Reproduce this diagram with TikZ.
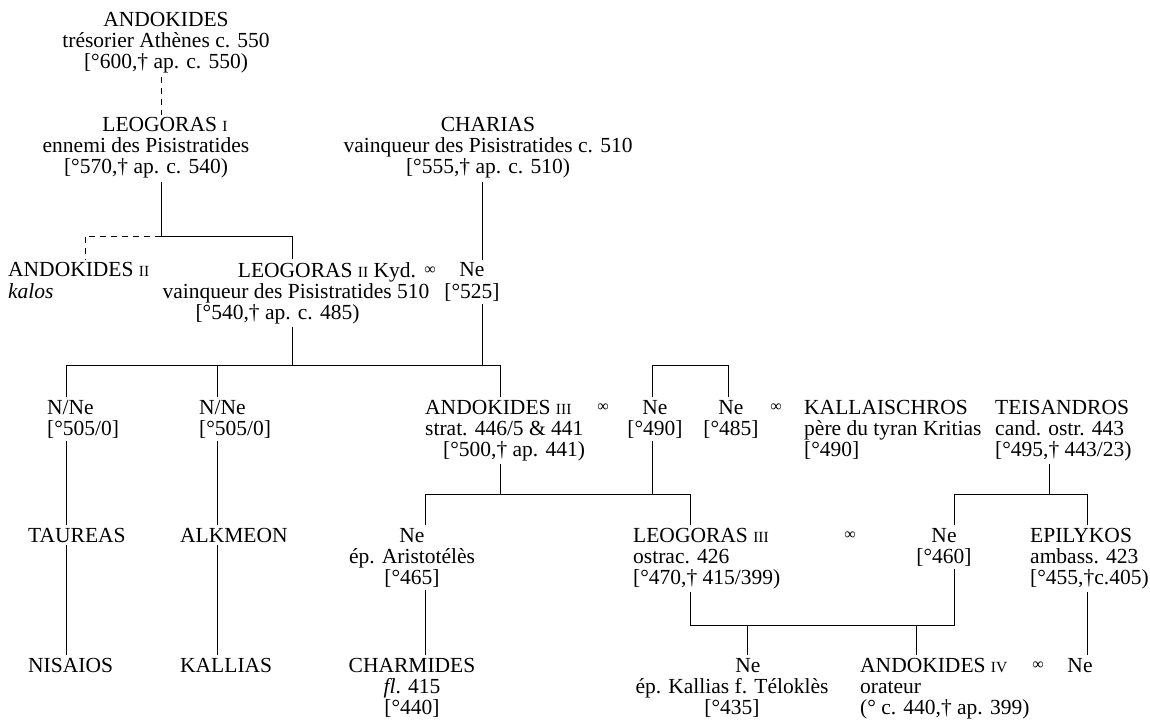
\documentclass[tikz,border=0pt]{standalone}
\usepackage{fontspec}
\setmainfont{Liberation Serif}
\newcommand{\numr}[1]{{\fontsize{15.5}{15.5}\selectfont #1}}

\tikzstyle{pers} = [inner xsep=0pt, inner ysep=3pt, align=center, anchor=base]
\tikzstyle{persl} = [pers, align=left, anchor=base west]
\tikzstyle{wed} = [inner sep=0pt, anchor=base, yshift=3pt, font=\fontsize{16}{16}\selectfont]
\tikzstyle{link} = [line width=0.9pt]
\tikzstyle{unsure} = [link, dash pattern=on 6pt off 5pt]

\begin{document}
\begin{tikzpicture}[x=1pt, y=-1pt, font=\fontsize{21.5}{21}\selectfont]
\useasboundingbox (0,0) rectangle (1150,727);

% nodes sit on the baseline of their last line
\node[pers] (andokidesI) at (166,69) {ANDOKIDES\\trésorier Athènes c. 550\\{[}°600,† ap. c. 550)};
\node[pers] (leogorasI) at (146,174) {\hspace*{38pt}LEOGORAS \numr{I}\\ennemi des Pisistratides\\{[}°570,† ap. c. 540)};
\node[pers] (charias) at (488,174) {CHARIAS\\vainqueur des Pisistratides c. 510\\{[}°555,† ap. c. 510)};
\node[persl] (andokidesII) at (8,298) {ANDOKIDES \numr{II}\\\textit{kalos}};
\node[pers] (leogorasII) at (296,319) {\hspace*{62pt}LEOGORAS \numr{II} Kyd.\\vainqueur des Pisistratides 510\\{[}°540,† ap. c. 485)\hspace*{37pt}};
\node[wed] (wedC) at (430,277) {∞};
\node[pers] (neCharias) at (472,298) {Ne\\{[}°525]};

% children of Leogoras II and Ne
\node[persl] (nneA) at (47,435) {N/Ne\\{[}°505/0]};
\node[persl] (nneB) at (199,435) {N/Ne\\{[}°505/0]};
\node[persl] (andokidesIII) at (425,456) {ANDOKIDES \numr{III}\\strat. 446/5 \& 441\\\hspace*{18pt}[°500,† ap. 441)};
\node[wed] (wedD) at (603,414) {∞};
\node[pers] (ne490) at (655,435) {Ne\\{[}°490]};
\node[pers] (ne485) at (731,435) {Ne\\{[}°485]};
\node[wed] (wedE) at (776,414) {∞};
\node[persl] (kallaischros) at (804,456) {KALLAISCHROS\\père du tyran Kritias\\{[}°490]};
\node[persl] (teisandros) at (995,456) {TEISANDROS\\cand. ostr. 443\\{[}°495,† 443/23)};

\node[persl] (taureas) at (28,542) {TAUREAS};
\node[persl] (alkmeon) at (180,542) {ALKMEON};
\node[pers] (neAristoteles) at (412,584) {Ne\\ép. Aristotélès\\{[}°465]};
\node[persl] (leogorasIII) at (633,584) {LEOGORAS \numr{III}\\ostrac. 426\\{[}°470,† 415/399)};
\node[wed] (wedF) at (850,542) {∞};
\node[pers] (ne460) at (944,563) {Ne\\{[}°460]};
\node[persl] (epilykos) at (1030,584) {EPILYKOS\\ambass. 423\\{[}°455,†c.405)};

\node[persl] (nisaios) at (28,672) {NISAIOS};
\node[persl] (kallias) at (180,672) {KALLIAS};
\node[pers] (charmides) at (412,714) {CHARMIDES\\\textit{fl}. 415\\{[}°440]};
\node[pers] (neKallias) at (732,714) {\hspace*{32pt}Ne\\ép. Kallias f. Téloklès\\{[}°435]};
\node[persl] (andokidesIV) at (860,714) {ANDOKIDES \numr{IV}\\orateur\\(° c. 440,† ap. 399)};
\node[wed] (wedG) at (1038,672) {∞};
\node[pers] (neEpilykos) at (1080,672) {Ne};

% junctions
\coordinate (b1) at (161,236);
\coordinate (b1l) at (85,236);
\coordinate (b1r) at (292,236);
\coordinate (b2l) at (66,365);
\coordinate (b2a) at (217,365);
\coordinate (b2f) at (292,365);
\coordinate (b2m) at (482,365);
\coordinate (b2r) at (500,365);
\coordinate (b3l) at (652,365);
\coordinate (b3r) at (728,365);
\coordinate (b4l) at (425,494);
\coordinate (b4a) at (500,494);
\coordinate (b4m) at (652,494);
\coordinate (b4r) at (690,494);
\coordinate (b5l) at (954,494);
\coordinate (b5t) at (1049,494);
\coordinate (b5r) at (1087,494);
\coordinate (b6l) at (690,625);
\coordinate (b6k) at (747,625);
\coordinate (b6a) at (916,625);
\coordinate (b6r) at (954,625);

% connectors
\draw[unsure] (andokidesI.south -| b1) -- (leogorasI.north -| b1);
\draw[link] (leogorasI.south -| b1) -- (b1) -- (b1r) -- (leogorasII.north -| b1r);
\draw[unsure] (b1) -- (b1l) -- (andokidesII.north -| b1l);
\draw[link] (charias.south -| b2m) -- (neCharias.north -| b2m);

\draw[link] (b2l) -- (b2r);
\draw[link] (leogorasII.south -| b2f) -- (b2f);
\draw[link] (neCharias.south -| b2m) -- (b2m);
\draw[link] (b2l) -- (nneA.north -| b2l);
\draw[link] (b2a) -- (nneB.north -| b2a);
\draw[link] (b2r) -- (andokidesIII.north -| b2r);
\draw[link] (ne490.north -| b3l) -- (b3l) -- (b3r) -- (ne485.north -| b3r);

\draw[link] (nneA.south -| b2l) -- (taureas.north -| b2l);
\draw[link] (taureas.south -| b2l) -- (nisaios.north -| b2l);
\draw[link] (nneB.south -| b2a) -- (alkmeon.north -| b2a);
\draw[link] (alkmeon.south -| b2a) -- (kallias.north -| b2a);

\draw[link] (andokidesIII.south -| b4a) -- (b4a);
\draw[link] (ne490.south -| b4m) -- (b4m);
\draw[link] (neAristoteles.north -| b4l) -- (b4l) -- (b4r) -- (leogorasIII.north -| b4r);
\draw[link] (teisandros.south -| b5t) -- (b5t);
\draw[link] (ne460.north -| b5l) -- (b5l) -- (b5r) -- (epilykos.north -| b5r);

\draw[link] (neAristoteles.south -| b4l) -- (charmides.north -| b4l);
\draw[link] (leogorasIII.south -| b6l) -- (b6l) -- (b6r) -- (ne460.south -| b6r);
\draw[link] (b6k) -- (neKallias.north -| b6k);
\draw[link] (b6a) -- (andokidesIV.north -| b6a);
\draw[link] (epilykos.south -| b5r) -- (neEpilykos.north -| b5r);
\end{tikzpicture}
\end{document}
